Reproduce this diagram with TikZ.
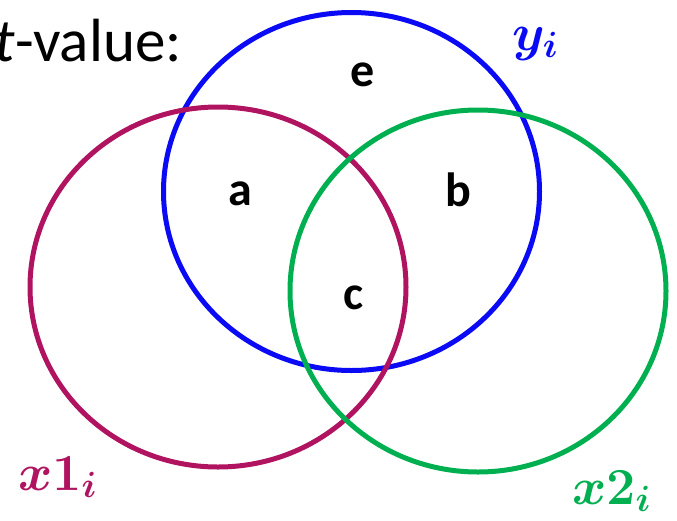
\RequirePackage{fix-cm}
\documentclass[tikz,border=0pt]{standalone}
\usepackage{amsmath,bm}
\usepackage[no-math]{fontspec}
\setmainfont{Carlito}
\definecolor{cblue}{RGB}{10,10,245}
\definecolor{cpurple}{RGB}{176,20,96}
\definecolor{cgreen}{RGB}{0,176,80}
\begin{document}
\begin{tikzpicture}[x=1pt,y=-1pt,
  ring/.style={line width=5pt},
  region/.style={font=\fontsize{48}{48}\selectfont\bfseries, inner sep=0pt},
  varlabel/.style={inner sep=0pt, anchor=base west, font=\fontsize{52}{52}\selectfont}]
\useasboundingbox (0,0) rectangle (677,520);
\draw[ring,cblue] (351.5,191.5) ellipse [x radius=188, y radius=179];
\draw[ring,cpurple] (218,287) ellipse [x radius=188, y radius=180];
\draw[ring,cgreen] (478,291) ellipse [x radius=188, y radius=181];
\node[inner sep=0pt, anchor=base east, font=\fontsize{61}{61}\selectfont] (title) at (182,61) {\textit{t}-value:};
\node[region] (e) at (363,75) {e};
\node[region] (a) at (240,194) {a};
\node[region] (b) at (458,190) {b};
\node[region] (c) at (354,298) {c};
\node[varlabel, text=cblue] (y) at (512,50) {$\bm{y}_{\bm{i}}$};
\node[varlabel, text=cpurple] (x1) at (18,490) {$\bm{x}\mathbf{1}_{\bm{i}}$};
\node[varlabel, text=cgreen] (x2) at (572,504) {$\bm{x}\mathbf{2}_{\bm{i}}$};
\end{tikzpicture}
\end{document}
